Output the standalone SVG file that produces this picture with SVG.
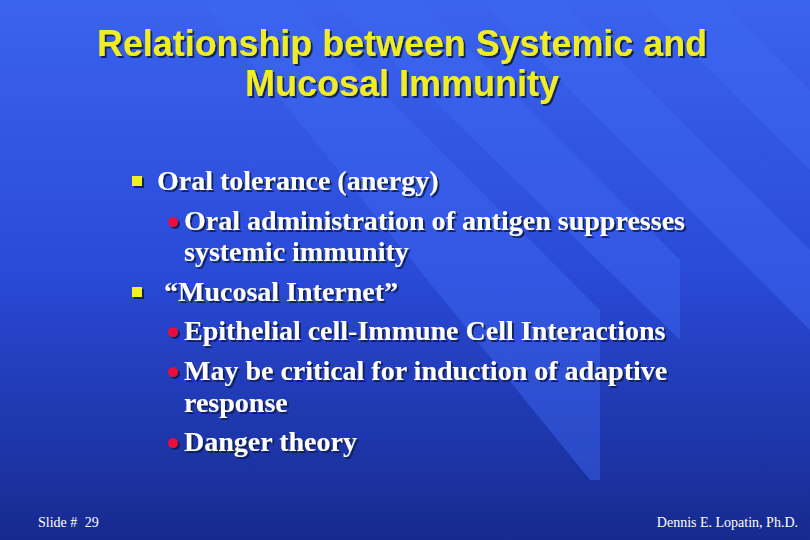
<svg xmlns="http://www.w3.org/2000/svg" width="810" height="540" viewBox="0 0 810 540">
<defs>
<linearGradient id="bg" x1="0" y1="0" x2="0" y2="1"><stop offset="0" stop-color="#3a63ee"/><stop offset="0.5" stop-color="#2a4ad8"/><stop offset="1" stop-color="#162a8e"/></linearGradient>
<filter id="sh"><feDropShadow dx="2" dy="2" stdDeviation="0.6" flood-color="#101a50" flood-opacity="0.9"/></filter>
</defs>
<style>
.t{font-family:"Liberation Sans",Arial,sans-serif;font-weight:bold;font-size:36px;fill:#f0ee20;text-anchor:middle}
.b{font-family:"Liberation Serif","Times New Roman",serif;font-weight:bold;font-size:28px;fill:#fff}
.f{font-family:"Liberation Serif","Times New Roman",serif;font-size:14px;fill:#fff}
.s{fill:#3f68f2;opacity:0.45}
</style>
<rect width="810" height="540" fill="url(#bg)"/>
<polygon class="s" points="200,0 290,0 600,310 600,480 590,480"/>
<polygon class="s" points="330,0 420,0 680,260 680,340"/>
<polygon class="s" points="480,0 560,0 810,250 810,330"/>
<polygon class="s" points="640,0 720,0 810,90 810,170"/>
<g id="title" filter="url(#sh)">
<text class="t" x="402" y="56" textLength="610" lengthAdjust="spacingAndGlyphs">Relationship between Systemic and</text>
<text class="t" x="402" y="96">Mucosal Immunity</text>
</g>
<g id="body" filter="url(#sh)">
<rect x="132" y="176" width="10" height="10" fill="#f0f020"/>
<text class="b" x="157" y="190">Oral tolerance (anergy)</text>
<circle cx="173" cy="222" r="5" fill="#e8103a"/>
<text class="b" x="184" y="230" textLength="501" lengthAdjust="spacingAndGlyphs">Oral administration of antigen suppresses</text>
<text class="b" x="184" y="261">systemic immunity</text>
<rect x="132" y="287" width="10" height="10" fill="#f0f020"/>
<text class="b" x="164" y="301">“Mucosal Internet”</text>
<circle cx="173" cy="332" r="5" fill="#e8103a"/>
<text class="b" x="184" y="340">Epithelial cell-Immune Cell Interactions</text>
<circle cx="173" cy="372" r="5" fill="#e8103a"/>
<text class="b" x="184" y="380">May be critical for induction of adaptive</text>
<text class="b" x="184" y="412">response</text>
<circle cx="173" cy="443" r="5" fill="#e8103a"/>
<text class="b" x="184" y="451">Danger theory</text>
</g>
<g id="footer">
<text class="f" x="38" y="527">Slide # <tspan dx="4">29</tspan></text>
<text class="f" x="798" y="527" text-anchor="end">Dennis E. Lopatin, Ph.D.</text>
</g>
</svg>
